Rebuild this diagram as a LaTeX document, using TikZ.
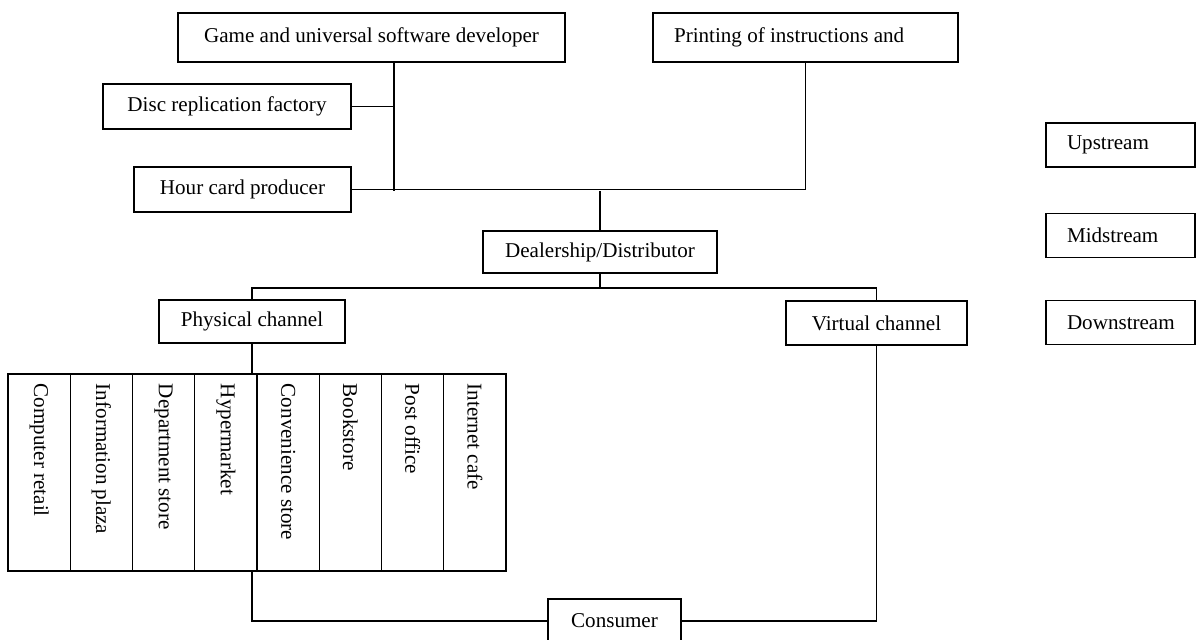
\documentclass[tikz,border=0pt]{standalone}
\usepackage{fontspec}
\setmainfont{Liberation Serif}
\usetikzlibrary{positioning}

\begin{document}
\begin{tikzpicture}[
    x=0.02cm, y=-0.02cm,
    font=\fontsize{12pt}{14pt}\selectfont,
    line width=0.8pt,
    box/.style={draw, rectangle, inner sep=0.14cm},
    leftbox/.style={draw, rectangle, inner xsep=0.42cm, align=flush left},
    store/.style={draw, rectangle, minimum width=1.245cm, minimum height=3.94cm},
    storetext/.style={rotate=-90, anchor=west}
  ]
  \fill[white] (0,0) rectangle (1196,639);
  \useasboundingbox (0,0) rectangle (1196,639);

  % upstream
  \node[box, minimum width=7.74cm, minimum height=0.98cm] (dev) at (371.5,37.5) {Game and universal software developer};
  \node[leftbox, text width=5.26cm, minimum height=0.98cm] (print) at (805.5,37.5) {Printing of instructions and};
  \node[box, minimum width=4.96cm, minimum height=0.9cm] (disc) at (227,106.5) {Disc replication factory};
  \node[box, minimum width=4.34cm, minimum height=0.9cm] (hour) at (242.5,189.5) {Hour card producer};

  % midstream
  \node[box, minimum width=4.68cm, minimum height=0.84cm] (dealer) at (600,252) {Dealership/Distributor};

  % downstream
  \node[box, minimum width=3.72cm, minimum height=0.86cm] (phys) at (252,321.5) {Physical channel};
  \node[box, minimum width=3.62cm, minimum height=0.88cm] (virt) at (876.5,323) {Virtual channel};
  \node[box, minimum width=2.66cm, minimum height=0.88cm] (cons) at (614.5,621) {Consumer};

  \foreach \shop [count=\i] in {Computer retail, Information plaza, Department store, Hypermarket,
      Convenience store, Bookstore, Post office, Internet cafe} {
    \node[store] (s\i) at ({8+62.25*(\i-0.5)},472.5) {};
    \node[storetext] at ([yshift=-0.08cm]s\i.north) {\shop};
  }

  % legend
  \node[leftbox, text width=2.14cm, minimum height=0.88cm] (up) at (1120.5,145) {Upstream};
  \node[leftbox, text width=2.14cm, minimum height=0.88cm] (mid) at (1120.5,235.5) {Midstream};
  \node[leftbox, text width=2.14cm, minimum height=0.88cm] (down) at (1120.5,322.5) {Downstream};

  % connectors
  \coordinate (jtop) at (394,191);
  \coordinate (jmid) at (600,288);
  \draw (dev.south -| jtop) -- (jtop);
  \draw (disc.east) -- (disc.east -| jtop);
  \draw (hour.east) -- (hour.east -| print.south) -- (print.south);
  \draw (dealer.north |- jtop) -- (dealer.north);
  \draw (dealer.south) -- (jmid);
  \draw (phys.north) |- (jmid) -| (virt.north);
  \draw (phys.south) -- (phys.south |- s4.north);
  \draw (phys.south |- s4.south) |- (cons.west);
  \draw (virt.south) |- (cons.east);
\end{tikzpicture}
\end{document}
